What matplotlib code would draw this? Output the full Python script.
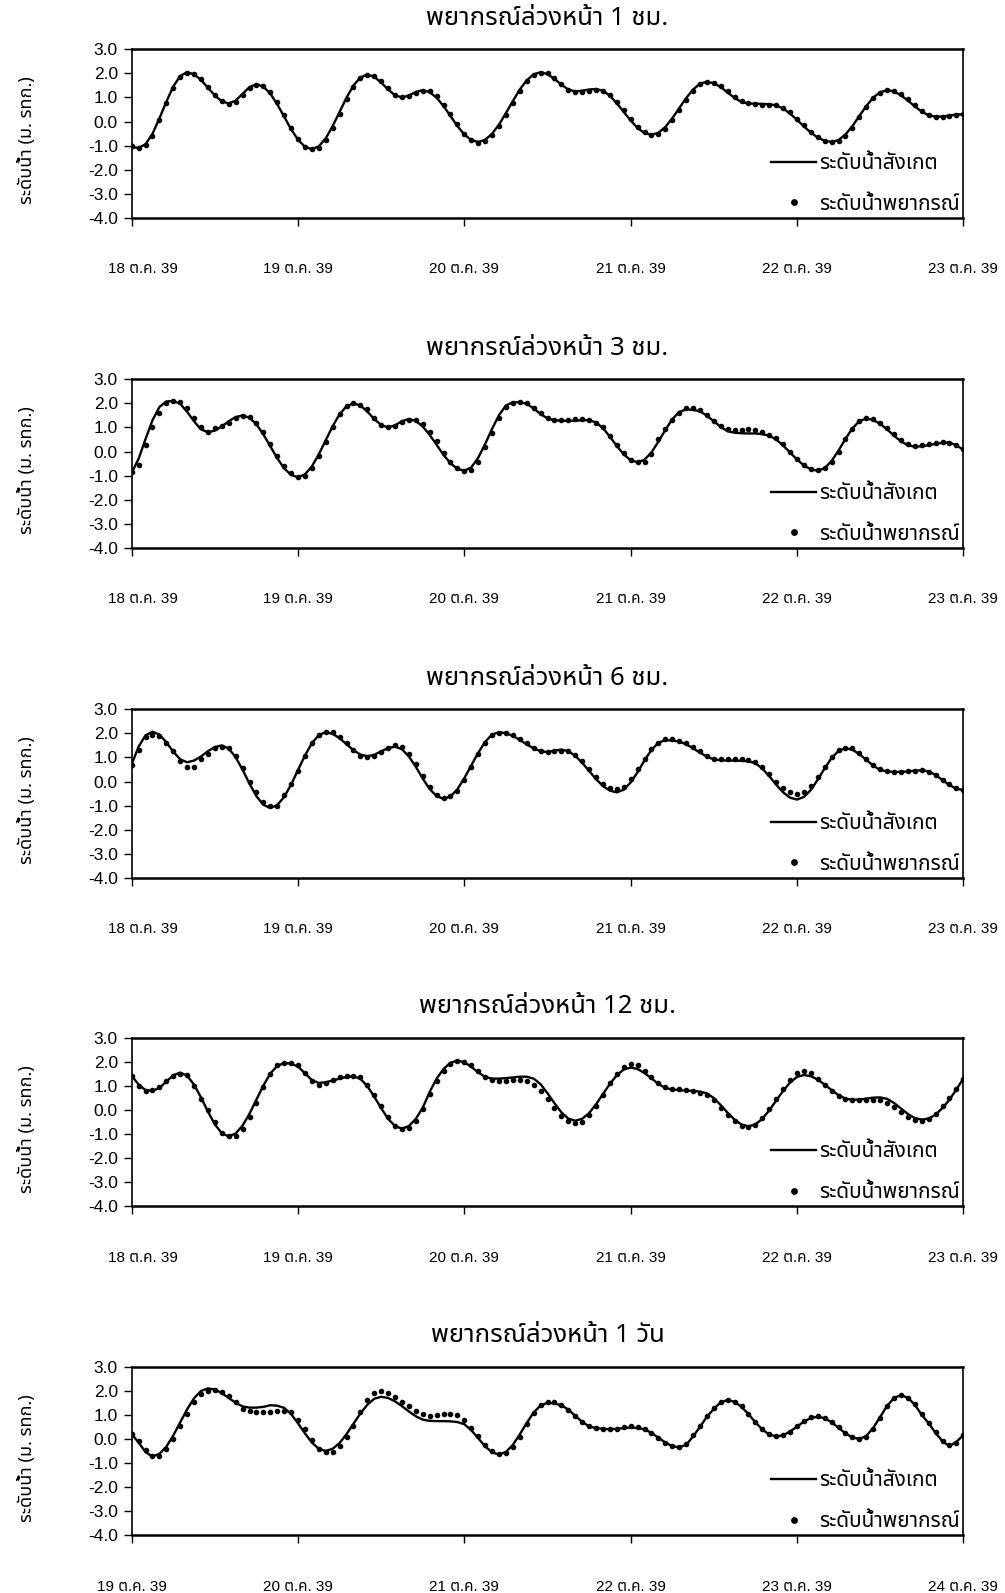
import numpy as np
import matplotlib
matplotlib.use("Agg")
import matplotlib.pyplot as plt
from matplotlib import font_manager as fm
from matplotlib.ft2font import FT2Font
import matplotlib.transforms as mtransforms

# ---------------- data (hourly water levels, m. MSL) ----------------
titles = ["พยากรณ์ล่วงหน้า 1 ชม.", "พยากรณ์ล่วงหน้า 3 ชม.", "พยากรณ์ล่วงหน้า 6 ชม.",
          "พยากรณ์ล่วงหน้า 12 ชม.", "พยากรณ์ล่วงหน้า 1 วัน"]
days_a = ["18 ต.ค. 39", "19 ต.ค. 39", "20 ต.ค. 39", "21 ต.ค. 39", "22 ต.ค. 39", "23 ต.ค. 39"]
days_b = ["19 ต.ค. 39", "20 ต.ค. 39", "21 ต.ค. 39", "22 ต.ค. 39", "23 ต.ค. 39", "24 ต.ค. 39"]
ylabel = "ระดับน้ำ (ม. รทก.)"
label_obs = "ระดับน้ำสังเกต"
label_fc = "ระดับน้ำพยากรณ์"
ytick_vals = [3.0, 2.0, 1.0, 0.0, -1.0, -2.0, -3.0, -4.0]

obs1 = [-1.05, -1.10, -0.94, -0.51, 0.13, 0.82, 1.46, 1.89, 2.05, 1.96,
        1.73, 1.40, 1.08, 0.84, 0.75, 0.87, 1.15, 1.43, 1.55, 1.45,
        1.16, 0.72, 0.20, -0.32, -0.76, -1.05, -1.15, -1.03, -0.70, -0.19,
        0.40, 0.99, 1.50, 1.83, 1.95, 1.86, 1.62, 1.33, 1.09, 1.00,
        1.08, 1.23, 1.30, 1.22, 0.99, 0.64, 0.23, -0.19, -0.54, -0.77,
        -0.85, -0.76, -0.51, -0.13, 0.35, 0.85, 1.33, 1.71, 1.96, 2.05,
        1.97, 1.77, 1.53, 1.33, 1.25, 1.28, 1.33, 1.35, 1.28, 1.07,
        0.76, 0.40, 0.04, -0.27, -0.48, -0.55, -0.47, -0.23, 0.13, 0.55,
        0.97, 1.33, 1.57, 1.65, 1.59, 1.43, 1.20, 0.98, 0.81, 0.75,
        0.74, 0.73, 0.72, 0.67, 0.54, 0.33, 0.07, -0.20, -0.46, -0.67,
        -0.80, -0.85, -0.77, -0.54, -0.19, 0.23, 0.64, 0.99, 1.22, 1.30,
        1.25, 1.09, 0.87, 0.63, 0.41, 0.26, 0.20, 0.21, 0.25, 0.29,
        0.30]
fc1 = [-1.00, -1.08, -0.98, -0.62, 0.05, 0.75, 1.40, 1.85, 2.03, 1.98,
       1.78, 1.45, 1.12, 0.86, 0.72, 0.82, 1.10, 1.40, 1.52, 1.48,
       1.22, 0.80, 0.28, -0.25, -0.72, -1.05, -1.15, -1.08, -0.78, -0.28,
       0.30, 0.92, 1.45, 1.82, 1.92, 1.88, 1.68, 1.38, 1.10, 1.00,
       1.05, 1.20, 1.28, 1.25, 1.05, 0.70, 0.30, -0.12, -0.50, -0.78,
       -0.88, -0.80, -0.58, -0.20, 0.28, 0.78, 1.28, 1.68, 1.95, 2.02,
       2.00, 1.82, 1.55, 1.32, 1.22, 1.23, 1.25, 1.30, 1.26, 1.10,
       0.82, 0.46, 0.10, -0.22, -0.45, -0.55, -0.50, -0.30, 0.05, 0.48,
       0.90, 1.28, 1.55, 1.65, 1.62, 1.48, 1.25, 1.02, 0.84, 0.75,
       0.72, 0.70, 0.70, 0.68, 0.58, 0.38, 0.12, -0.15, -0.42, -0.65,
       -0.80, -0.85, -0.80, -0.60, -0.25, 0.18, 0.60, 0.96, 1.20, 1.30,
       1.28, 1.15, 0.92, 0.68, 0.45, 0.28, 0.20, 0.20, 0.24, 0.28,
       0.30]

obs2 = [-0.88, -0.30, 0.52, 1.30, 1.85, 2.08, 2.10, 1.98, 1.65, 1.25,
        0.92, 0.80, 0.87, 1.04, 1.26, 1.43, 1.50, 1.40, 1.13, 0.71,
        0.22, -0.28, -0.70, -0.97, -1.07, -0.95, -0.62, -0.12, 0.47, 1.05,
        1.55, 1.88, 2.00, 1.91, 1.66, 1.35, 1.10, 1.00, 1.09, 1.26,
        1.35, 1.27, 1.04, 0.69, 0.28, -0.14, -0.49, -0.72, -0.80, -0.66,
        -0.26, 0.31, 0.94, 1.51, 1.91, 2.05, 2.05, 1.98, 1.79, 1.56,
        1.37, 1.30, 1.28, 1.27, 1.28, 1.30, 1.30, 1.21, 0.97, 0.62,
        0.23, -0.12, -0.36, -0.45, -0.34, -0.04, 0.41, 0.89, 1.34, 1.64,
        1.75, 1.73, 1.67, 1.49, 1.26, 1.02, 0.84, 0.78, 0.76, 0.75,
        0.75, 0.72, 0.66, 0.50, 0.25, -0.04, -0.33, -0.58, -0.74, -0.80,
        -0.69, -0.39, 0.04, 0.53, 0.96, 1.26, 1.37, 1.31, 1.15, 0.92,
        0.66, 0.42, 0.26, 0.20, 0.22, 0.26, 0.32, 0.36, 0.38, 0.25,
        0.08]
fc2 = [-0.85, -0.55, 0.25, 1.00, 1.62, 2.00, 2.10, 2.05, 1.80, 1.40,
       1.00, 0.82, 0.98, 1.05, 1.20, 1.40, 1.48, 1.45, 1.20, 0.80,
       0.30, -0.20, -0.60, -0.90, -1.05, -1.00, -0.70, -0.20, 0.40, 1.00,
       1.55, 1.90, 2.00, 1.95, 1.75, 1.40, 1.12, 1.02, 1.08, 1.22,
       1.32, 1.32, 1.15, 0.80, 0.42, -0.05, -0.42, -0.70, -0.80, -0.75,
       -0.45, 0.20, 0.78, 1.40, 1.85, 2.00, 2.05, 2.00, 1.82, 1.60,
       1.38, 1.30, 1.30, 1.32, 1.33, 1.35, 1.32, 1.20, 1.00, 0.65,
       0.28, -0.05, -0.35, -0.45, -0.45, -0.10, 0.50, 0.95, 1.30, 1.60,
       1.80, 1.82, 1.72, 1.52, 1.28, 1.05, 0.92, 0.90, 0.90, 0.92,
       0.90, 0.82, 0.70, 0.55, 0.30, 0.00, -0.30, -0.55, -0.72, -0.78,
       -0.70, -0.45, 0.00, 0.50, 0.95, 1.25, 1.38, 1.35, 1.20, 0.98,
       0.72, 0.48, 0.30, 0.24, 0.26, 0.30, 0.34, 0.38, 0.36, 0.28,
       0.12]

obs3 = [0.72, 1.45, 1.92, 2.07, 1.95, 1.63, 1.24, 0.92, 0.80, 0.87,
        1.04, 1.26, 1.43, 1.50, 1.37, 1.01, 0.49, -0.09, -0.61, -0.97,
        -1.10, -0.98, -0.64, -0.13, 0.48, 1.08, 1.59, 1.93, 2.05, 1.98,
        1.80, 1.55, 1.30, 1.12, 1.05, 1.11, 1.25, 1.39, 1.45, 1.34,
        1.04, 0.61, 0.12, -0.31, -0.61, -0.72, -0.62, -0.32, 0.14, 0.67,
        1.19, 1.65, 1.95, 2.05, 2.01, 1.89, 1.73, 1.54, 1.38, 1.26,
        1.22, 1.28, 1.33, 1.26, 1.07, 0.78, 0.44, 0.10, -0.19, -0.38,
        -0.45, -0.34, -0.04, 0.39, 0.88, 1.31, 1.61, 1.72, 1.70, 1.66,
        1.55, 1.38, 1.20, 1.03, 0.92, 0.88, 0.87, 0.87, 0.86, 0.84,
        0.76, 0.54, 0.22, -0.13, -0.45, -0.67, -0.75, -0.64, -0.35, 0.08,
        0.55, 0.98, 1.27, 1.38, 1.32, 1.14, 0.90, 0.66, 0.48, 0.42,
        0.40, 0.40, 0.42, 0.45, 0.47, 0.42, 0.27, 0.06, -0.15, -0.30,
        -0.35]
fc3 = [0.70, 1.30, 1.85, 1.95, 1.90, 1.60, 1.25, 0.85, 0.62, 0.62,
       0.95, 1.15, 1.38, 1.42, 1.40, 1.08, 0.55, 0.00, -0.45, -0.85,
       -1.02, -1.00, -0.55, -0.12, 0.42, 1.05, 1.62, 1.95, 2.05, 2.05,
       1.85, 1.60, 1.30, 1.08, 1.02, 1.05, 1.22, 1.40, 1.50, 1.45,
       1.15, 0.72, 0.22, -0.22, -0.55, -0.68, -0.62, -0.40, 0.08, 0.62,
       1.15, 1.62, 1.95, 2.02, 2.02, 1.95, 1.78, 1.58, 1.38, 1.25,
       1.22, 1.25, 1.28, 1.28, 1.12, 0.85, 0.52, 0.18, -0.10, -0.25,
       -0.30, -0.22, 0.10, 0.50, 0.95, 1.35, 1.62, 1.75, 1.76, 1.70,
       1.60, 1.45, 1.25, 1.08, 0.95, 0.92, 0.92, 0.92, 0.92, 0.90,
       0.82, 0.60, 0.30, 0.00, -0.28, -0.45, -0.50, -0.42, -0.18, 0.20,
       0.62, 1.02, 1.30, 1.40, 1.38, 1.20, 0.95, 0.70, 0.50, 0.42,
       0.40, 0.40, 0.42, 0.45, 0.48, 0.40, 0.25, 0.08, -0.12, -0.28,
       -0.35]

obs4 = [1.42, 1.05, 0.82, 0.80, 0.91, 1.18, 1.44, 1.55, 1.42, 1.05,
        0.52, -0.07, -0.60, -0.97, -1.10, -0.98, -0.65, -0.16, 0.43, 1.01,
        1.51, 1.83, 1.95, 1.92, 1.80, 1.52, 1.24, 1.12, 1.15, 1.22,
        1.30, 1.37, 1.40, 1.29, 0.99, 0.55, 0.07, -0.37, -0.67, -0.78,
        -0.67, -0.37, 0.09, 0.75, 1.30, 1.70, 1.96, 2.05, 1.98, 1.79,
        1.56, 1.37, 1.30, 1.30, 1.32, 1.35, 1.38, 1.38, 1.30, 1.07,
        0.69, 0.28, -0.10, -0.36, -0.45, -0.37, -0.13, 0.23, 0.66, 1.08,
        1.44, 1.68, 1.76, 1.70, 1.53, 1.31, 1.08, 0.91, 0.85, 0.82,
        0.80, 0.79, 0.76, 0.69, 0.49, 0.20, -0.12, -0.41, -0.61, -0.68,
        -0.60, -0.37, -0.02, 0.39, 0.79, 1.14, 1.37, 1.45, 1.40, 1.26,
        1.05, 0.82, 0.61, 0.47, 0.42, 0.43, 0.47, 0.51, 0.52, 0.46,
        0.29, 0.06, -0.17, -0.34, -0.40, -0.36, -0.20, 0.08, 0.42, 0.85,
        1.30]
fc4 = [1.40, 1.00, 0.80, 0.82, 0.95, 1.20, 1.42, 1.50, 1.45, 1.00,
       0.45, 0.00, -0.50, -0.95, -1.10, -1.08, -0.80, -0.30, 0.30, 0.95,
       1.50, 1.85, 1.95, 1.95, 1.85, 1.55, 1.20, 1.05, 1.10, 1.25,
       1.35, 1.40, 1.42, 1.35, 1.05, 0.62, 0.15, -0.30, -0.65, -0.80,
       -0.75, -0.45, 0.02, 0.65, 1.20, 1.62, 1.92, 2.02, 2.00, 1.85,
       1.60, 1.35, 1.25, 1.22, 1.22, 1.25, 1.25, 1.20, 1.05, 0.80,
       0.45, 0.10, -0.25, -0.48, -0.55, -0.50, -0.22, 0.15, 0.62, 1.10,
       1.50, 1.80, 1.90, 1.85, 1.62, 1.35, 1.10, 0.95, 0.88, 0.85,
       0.82, 0.78, 0.72, 0.60, 0.40, 0.10, -0.20, -0.45, -0.65, -0.72,
       -0.62, -0.35, 0.05, 0.45, 0.88, 1.25, 1.52, 1.60, 1.52, 1.30,
       1.05, 0.80, 0.58, 0.45, 0.40, 0.40, 0.42, 0.42, 0.40, 0.30,
       0.12, -0.10, -0.30, -0.42, -0.45, -0.38, -0.15, 0.15, 0.48, 0.88,
       1.30]

obs5 = [0.20, -0.15, -0.55, -0.73, -0.62, -0.32, 0.14, 0.69, 1.23, 1.69,
        1.99, 2.10, 2.05, 1.90, 1.70, 1.50, 1.35, 1.30, 1.30, 1.33,
        1.40, 1.38, 1.29, 1.03, 0.65, 0.23, -0.15, -0.41, -0.50, -0.41,
        -0.17, 0.20, 0.63, 1.06, 1.42, 1.67, 1.75, 1.70, 1.56, 1.36,
        1.14, 0.94, 0.80, 0.75, 0.74, 0.74, 0.73, 0.70, 0.61, 0.36,
        0.03, -0.31, -0.56, -0.65, -0.54, -0.25, 0.19, 0.66, 1.10, 1.39,
        1.50, 1.47, 1.40, 1.22, 0.96, 0.71, 0.52, 0.45, 0.42, 0.40,
        0.42, 0.45, 0.47, 0.45, 0.40, 0.25, 0.05, -0.15, -0.30, -0.35,
        -0.25, 0.10, 0.50, 0.92, 1.25, 1.52, 1.62, 1.54, 1.33, 1.03,
        0.69, 0.39, 0.18, 0.10, 0.15, 0.31, 0.51, 0.72, 0.87, 0.92,
        0.86, 0.69, 0.46, 0.23, 0.06, 0.00, 0.12, 0.46, 0.91, 1.37,
        1.70, 1.82, 1.71, 1.42, 1.00, 0.65, 0.25, -0.10, -0.30, -0.12,
        0.15]
fc5 = [0.20, -0.10, -0.45, -0.72, -0.70, -0.40, 0.00, 0.55, 1.05, 1.55,
       1.85, 2.00, 2.02, 1.95, 1.80, 1.55, 1.25, 1.15, 1.12, 1.12,
       1.12, 1.15, 1.18, 1.10, 0.80, 0.40, -0.05, -0.40, -0.55, -0.55,
       -0.30, 0.10, 0.55, 1.10, 1.60, 1.92, 2.00, 1.90, 1.75, 1.55,
       1.35, 1.15, 1.02, 0.95, 0.98, 1.02, 1.05, 0.98, 0.78, 0.45,
       0.12, -0.25, -0.50, -0.62, -0.60, -0.35, 0.10, 0.60, 1.08, 1.40,
       1.55, 1.55, 1.42, 1.22, 0.95, 0.70, 0.52, 0.45, 0.40, 0.40,
       0.42, 0.48, 0.52, 0.50, 0.42, 0.25, 0.05, -0.15, -0.30, -0.35,
       -0.20, 0.15, 0.55, 0.95, 1.30, 1.55, 1.62, 1.55, 1.35, 1.05,
       0.72, 0.42, 0.20, 0.12, 0.15, 0.30, 0.52, 0.75, 0.90, 0.95,
       0.88, 0.70, 0.48, 0.25, 0.08, 0.00, 0.10, 0.42, 0.88, 1.35,
       1.70, 1.82, 1.72, 1.45, 1.05, 0.68, 0.28, -0.08, -0.25, -0.15,
       0.15]

observed = [obs1, obs2, obs3, obs4, obs5]
forecast = [fc1, fc2, fc3, fc4, fc5]
day_sets = [days_a, days_a, days_a, days_a, days_b]

# ---------------- fonts ----------------
def find_thai_fonts():
    found = []
    for f in fm.fontManager.ttflist:
        try:
            cm = FT2Font(f.fname).get_charmap()
        except Exception:
            continue
        if 0x0E01 in cm and 0x0E33 in cm and 0x0E4C in cm:
            if f.name not in found:
                found.append(f.name)
    return found

thai = find_thai_fonts()
pref = ["Noto Sans Thai", "Loma", "Garuda", "Tlwg Typo", "Waree", "Kinnari", "Norasi",
        "Sawasdee", "Laksaman", "Umpush", "Noto Serif Thai", "FreeSans", "FreeSerif"]
thai_sorted = [p for p in pref if p in thai] + [t for t in thai if t not in pref]
thai_main = thai_sorted[:1]

plt.rcParams["font.family"] = ["Liberation Sans"] + thai_main + ["DejaVu Sans"]
plt.rcParams["axes.unicode_minus"] = False

fam_text = thai_main + ["Liberation Sans", "DejaVu Sans"]
fam_ticks = ["Liberation Sans"] + thai_main + ["DejaVu Sans"]

# ---------------- figure ----------------
W, H = 1005, 1593
fig = plt.figure(figsize=(W / 100, H / 100), dpi=100)
fig.patch.set_facecolor("white")

left = 131.7 / W
width = (963.3 - 131.7) / W
tops_px = [49.3, 379.3, 709.3, 1037.7, 1366.7]
h_px = 168.5
xticks_pos = [0, 24, 48, 72, 96, 120]

for i in range(5):
    top = tops_px[i]
    ax = fig.add_axes([left, 1 - (top + h_px) / H, width, h_px / H])
    hrs = np.arange(len(observed[i]))
    ax.plot(hrs, observed[i], color="black", lw=1.7, zorder=2, label=label_obs)
    hrf = np.arange(len(forecast[i]))
    ax.plot(hrf, forecast[i], ls="none", marker="o", ms=3.0, color="black",
            zorder=3, label=label_fc)

    ax.set_xlim(0, 120)
    ax.set_ylim(-4, 3)
    ax.set_yticks(ytick_vals)
    ax.set_yticklabels([f"{v:.1f}" for v in ytick_vals], fontsize=12.5, family=fam_ticks)
    ax.set_xticks(xticks_pos)
    ax.set_xticklabels(day_sets[i], fontsize=11, family=fam_ticks)
    ax.tick_params(axis="x", direction="out", length=6, width=1.0, pad=26, colors="black")
    ax.tick_params(axis="y", direction="out", length=6, width=1.0, pad=4, colors="black")
    for name, sp in ax.spines.items():
        sp.set_linewidth(1.8 if name in ("top", "bottom") else 1.2)
        sp.set_color("black")

    if i < 4:
        lab = ax.get_xticklabels()[0]
        lab.set_transform(lab.get_transform() +
                          mtransforms.ScaledTranslation(8 / 72, 0, fig.dpi_scale_trans))

    ax.set_title(titles[i], fontsize=18.5, family=fam_text, pad=17.5)
    ax.set_ylabel(ylabel, fontsize=13, family=fam_text, va="center")
    ax.yaxis.set_label_coords(-0.126, 0.46)

    ax.legend(loc="lower right", bbox_to_anchor=(1.0, 0.0), frameon=False,
              prop={"family": fam_text, "size": 15}, handlelength=2.2,
              handletextpad=0.15, labelspacing=0.95, borderaxespad=0.0,
              borderpad=0.15, markerscale=1.3)

fig.savefig("out.png", dpi=100, facecolor="white")
